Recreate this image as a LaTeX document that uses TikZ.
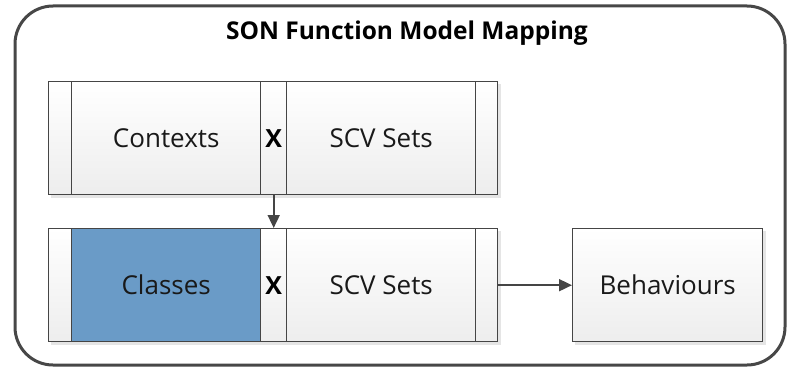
\documentclass[tikz,border=0pt]{standalone}
\usepackage{fontspec}
\setmainfont{Open Sans}
\usetikzlibrary{arrows.meta,shadows}
\definecolor{linec}{HTML}{454545}
\definecolor{bluec}{HTML}{6A9BC7}
\tikzset{
  cell/.style={draw=linec, line width=1.4pt, top color=white, bottom color=black!7, inner sep=0pt, anchor=north west},
  rowshadow/.style={fill=black!10},
  lbl/.style={font=\fontsize{26}{30}\selectfont\color{black!90}},
  xlbl/.style={font=\bfseries\fontsize{25}{30}\selectfont},
  conn/.style={draw=linec, line width=1.8pt, -{Triangle[length=13pt,width=12pt]}},
}
\begin{document}
\begin{tikzpicture}[x=1pt,y=-1pt]
\useasboundingbox (0,0) rectangle (790,369);
% outer frame
\draw[line width=3pt, draw=black!72, rounded corners=38pt] (15,6) rectangle (785,365);
\node[font=\bfseries\fontsize{24.5}{28}\selectfont] (title) at (407,33) {SON Function Model Mapping};
% shadows
\fill[rowshadow] (51,84) rectangle (501,198);
\fill[rowshadow] (51,231) rectangle (501,345);
\fill[rowshadow] (575,231) rectangle (766,345);
% top row
\node[cell, minimum width=23pt, minimum height=113pt] (t1) at (48,81) {};
\node[cell, minimum width=189pt, minimum height=113pt, lbl] (ctx) at (71,81) {Contexts};
\node[cell, minimum width=26pt, minimum height=113pt, xlbl] (tx) at (260,81) {X};
\node[cell, minimum width=189pt, minimum height=113pt, lbl] (scv1) at (286,81) {SCV Sets};
\node[cell, minimum width=22pt, minimum height=113pt] (t5) at (475,81) {};
% bottom row
\node[cell, minimum width=23pt, minimum height=113pt] (b1) at (48,228) {};
\node[cell, minimum width=189pt, minimum height=113pt, lbl, fill=bluec, top color=bluec, bottom color=bluec] (cls) at (71,228) {Classes};
\node[cell, minimum width=26pt, minimum height=113pt, xlbl] (bx) at (260,228) {X};
\node[cell, minimum width=189pt, minimum height=113pt, lbl] (scv2) at (286,228) {SCV Sets};
\node[cell, minimum width=22pt, minimum height=113pt] (b5) at (475,228) {};
% behaviours
\node[cell, minimum width=190pt, minimum height=113pt, lbl] (beh) at (572,228) {Behaviours};
% connectors
\draw[conn] (tx.south) -- (bx.north);
\draw[conn] (b5.east) -- (beh.west);
\end{tikzpicture}
\end{document}
